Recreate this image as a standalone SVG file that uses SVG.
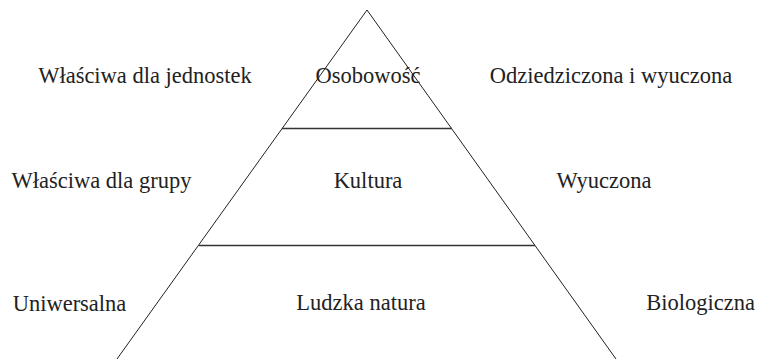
<svg xmlns="http://www.w3.org/2000/svg" width="758" height="359" viewBox="0 0 758 359">
  <style>
    .lbl { font-family: "Liberation Serif", "DejaVu Serif", serif; font-size: 22.5px; fill: #222; text-anchor: middle; }
    .edge { stroke: #222; stroke-width: 1; fill: none; }
    .tier { stroke: #333; stroke-width: 1.4; fill: none; }
  </style>
  <rect width="758" height="359" fill="#fff"/>
  <g id="connectors">
    <polyline class="edge" points="117,359 367,10 616,359"/>
    <line class="tier" x1="282" y1="128.5" x2="452" y2="128.5"/>
    <line class="tier" x1="199" y1="245.5" x2="535" y2="245.5"/>
  </g>
  <g id="osobowosc">
    <text class="lbl" x="368" y="83">Osobowość</text>
  </g>
  <g id="kultura">
    <text class="lbl" x="368" y="188">Kultura</text>
  </g>
  <g id="ludzka-natura">
    <text class="lbl" x="361" y="310">Ludzka natura</text>
  </g>
  <g id="wlasciwa-jednostek">
    <text class="lbl" x="145" y="83">Właściwa dla jednostek</text>
  </g>
  <g id="wlasciwa-grupy">
    <text class="lbl" x="101.5" y="188">Właściwa dla grupy</text>
  </g>
  <g id="uniwersalna">
    <text class="lbl" x="69.5" y="311">Uniwersalna</text>
  </g>
  <g id="odziedziczona">
    <text class="lbl" x="611" y="83">Odziedziczona i wyuczona</text>
  </g>
  <g id="wyuczona">
    <text class="lbl" x="604" y="188">Wyuczona</text>
  </g>
  <g id="biologiczna">
    <text class="lbl" x="755" y="310" style="text-anchor:end">Biologiczna</text>
  </g>
</svg>
